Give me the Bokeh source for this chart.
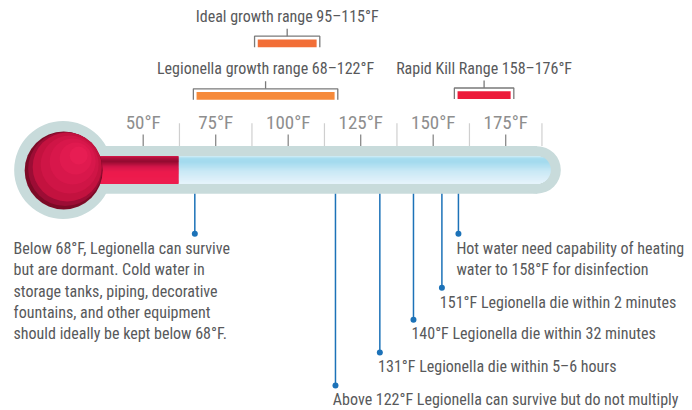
import numpy as np
from bokeh.plotting import figure
from bokeh.models import Range1d
from bokeh.core.properties import value
from bokeh.embed import file_html
from bokeh.resources import INLINE

# ---------------- data (°F) ----------------
tick_values = [50, 75, 100, 125, 150, 175]
tick_labels = ["50°F", "75°F", "100°F", "125°F", "150°F", "175°F"]
minor_tick_values = [62.5, 87.5, 112.5, 137.5, 162.5, 187.5]

range_labels = ["Ideal growth range 95–115°F",
                "Legionella growth range 68–122°F",
                "Rapid Kill Range 158–176°F"]
range_start = [89.5, 68.4, 158.4]      # bar extents as drawn
range_end = [109.8, 116.0, 176.7]
range_colors = ["#f26e37", "#f68a3b", "#ec1b3a"]

bulb_center = 22.4     # thermometer bulb
fill_level = 62.2      # red column level
tube_end = 185.8       # centre of the rounded tube end

leader_temp = [67.8, 116.3, 131.6, 143.2, 153.0, 158.7]
leader_end_y = [233.3, 385.0, 352.0, 319.3, 287.3, 233.3]
note_x = [5.3, 115.4, 131.0, 142.5, 152.3, 158.0]
note_lines = [
    ["Below 68°F, Legionella can survive",
     "but are dormant. Cold water in",
     "storage tanks, piping, decorative",
     "fountains, and other equipment",
     "should ideally be kept below 68°F."],
    ["Above 122°F Legionella can survive but do not multiply"],
    ["131°F Legionella die within 5–6 hours"],
    ["140°F Legionella die within 32 minutes"],
    ["151°F Legionella die within 2 minutes"],
    ["Hot water need capability of heating",
     "water to 158°F for disinfection"],
]
note_baseline = [255.0, 405.7, 373.3, 340.0, 309.0, 255.0]

# ---------------- layout / style ----------------
W, H = 692, 410
PX = 2.9                      # pixels per °F
X0 = 50 - 142.7 / PX
FONT = "Roboto Condensed"
TXT = "#58595b"
NOTE_PX = 16
TICK_PX = 19
BASE_SHIFT = 0.43             # renderer baseline correction (fraction of font size)

p = figure(width=W, height=H, output_backend="svg", toolbar_location=None,
           x_range=Range1d(X0, X0 + W / PX), y_range=Range1d(H, 0),
           min_border=0, outline_line_color=None)
p.axis.visible = False
p.grid.visible = False
p.background_fill_color = "white"
p.border_fill_color = "white"

def dx(px):
    return px / PX

# ---------------- thermometer ----------------
TUBE_Y = 169.4
OUT_R = 23.8
IN_R = 13.7
TUBE_COL = "#c8dbdb"

p.quad(left=[bulb_center], right=[tube_end], top=[TUBE_Y - OUT_R], bottom=[TUBE_Y + OUT_R],
       fill_color=TUBE_COL, line_color=None)
p.scatter(x=[tube_end], y=[TUBE_Y], size=2 * OUT_R, fill_color=TUBE_COL, line_color=None)
p.scatter(x=[bulb_center], y=[TUBE_Y], size=98, fill_color=TUBE_COL, line_color=None)

def lerp_colors(stops, t):
    for (t0, c0), (t1, c1) in zip(stops[:-1], stops[1:]):
        if t0 <= t <= t1:
            f = (t - t0) / (t1 - t0) if t1 > t0 else 0
            a = [int(c0[i:i + 2], 16) for i in (1, 3, 5)]
            b = [int(c1[i:i + 2], 16) for i in (1, 3, 5)]
            return "#%02x%02x%02x" % tuple(round(a[k] + (b[k] - a[k]) * f) for k in range(3))
    return stops[-1][1]

blue_stops = [(0, "#d2edf6"), (0.1, "#a6dcef"), (0.22, "#a3daee"), (0.55, "#c8e8f5"), (1, "#e6f3fb")]
red_stops = [(0, "#d8184a"), (0.08, "#b0103c"), (0.2, "#920b31"), (0.4, "#d4164a"), (0.6, "#ec1b4d"), (1, "#ee1c4e")]

N = 28
edges = np.linspace(TUBE_Y - IN_R, TUBE_Y + IN_R, N + 1)
bl, br, bt, bb, bc = [], [], [], [], []
rl, rr, rt, rb, rc = [], [], [], [], []
for i in range(N):
    y0, y1 = edges[i], edges[i + 1]
    t = (i + 0.5) / N
    ym = 0.5 * (y0 + y1) - TUBE_Y
    half = np.sqrt(max(IN_R ** 2 - ym ** 2, 0))
    bl.append(fill_level); br.append(tube_end + dx(half))
    bt.append(y0 - 0.3); bb.append(y1 + 0.3); bc.append(lerp_colors(blue_stops, t))
    rl.append(bulb_center); rr.append(fill_level)
    rt.append(y0 - 0.3); rb.append(y1 + 0.3); rc.append(lerp_colors(red_stops, t))
p.quad(left=bl, right=br, top=bt, bottom=bb, fill_color=bc, line_color=None)
p.quad(left=rl, right=rr, top=rt, bottom=rb, fill_color=rc, line_color=None)

# red bulb with shading
ball = [(0, 0, 39.0, "#7c0a26"), (1.5, -1.5, 37, "#9c0d35"), (3.5, -3.5, 34.5, "#c3123f"),
        (6, -6, 29, "#cf1546"), (9, -9, 23, "#d8174b"), (12, -12, 16, "#e01a4f"), (15, -15, 9, "#e71d53")]
for ox, oy, r, c in ball:
    p.scatter(x=[bulb_center + dx(ox + 0.5)], y=[TUBE_Y + 0.6 + oy], size=2 * r,
              fill_color=c, line_color=None)

# ---------------- scale ----------------
p.segment(x0=tick_values, x1=tick_values, y0=[134] * 6, y1=[TUBE_Y - OUT_R] * 6,
          line_color="#8a8a8a", line_width=1.3)
p.segment(x0=minor_tick_values, x1=minor_tick_values, y0=[122.7] * 6, y1=[TUBE_Y - OUT_R] * 6,
          line_color="#cfcfcf", line_width=1.2)
p.text(x=tick_values, y=[130 - BASE_SHIFT * TICK_PX] * 6, text=tick_labels, text_align="center",
       text_baseline="alphabetic", text_font=value(FONT), text_font_size=f"{TICK_PX}px",
       text_color="#8e8e8e")

# ---------------- range brackets ----------------
label_base = [23.3, 75.0, 75.0]
br_top = [35.7, 88.3, 87.5]
pad = 1.1
xs, ys = [], []
mids = []
for s, e, t in zip(range_start, range_end, br_top):
    xs.append([s - pad, s - pad, e + pad, e + pad]); ys.append([t + 11, t, t, t + 11])
    mids.append(0.5 * (s + e))
p.multi_line(xs=xs, ys=ys, line_color="#7a7a7a", line_width=1.3)
p.segment(x0=mids, x1=mids, y0=[t - 7.5 for t in br_top], y1=br_top,
          line_color="#7a7a7a", line_width=1.3)
p.quad(left=range_start, right=range_end, top=[t + 3.3 for t in br_top],
       bottom=[t + 11 for t in br_top], fill_color=range_colors, line_color=None)
p.text(x=mids, y=[b - BASE_SHIFT * NOTE_PX for b in label_base], text=range_labels,
       text_align="center", text_baseline="alphabetic", text_font=value(FONT),
       text_font_size=f"{NOTE_PX}px", text_color=TXT)

# ---------------- leaders & notes ----------------
LEAD = "#1c72b8"
p.segment(x0=leader_temp, x1=leader_temp, y0=[TUBE_Y + OUT_R] * 6, y1=leader_end_y,
          line_color=LEAD, line_width=1.5)
p.scatter(x=leader_temp, y=leader_end_y, size=6, fill_color=LEAD, line_color=None)

tx, ty, tt = [], [], []
for x, lines, b in zip(note_x, note_lines, note_baseline):
    for k, line in enumerate(lines):
        tx.append(x); ty.append(b + 21.3 * k - BASE_SHIFT * NOTE_PX); tt.append(line)
p.text(x=tx, y=ty, text=tt, text_align="left", text_baseline="alphabetic",
       text_font=value(FONT), text_font_size=f"{NOTE_PX}px", text_color=TXT)

open("out.html", "w").write(file_html(p, INLINE))
